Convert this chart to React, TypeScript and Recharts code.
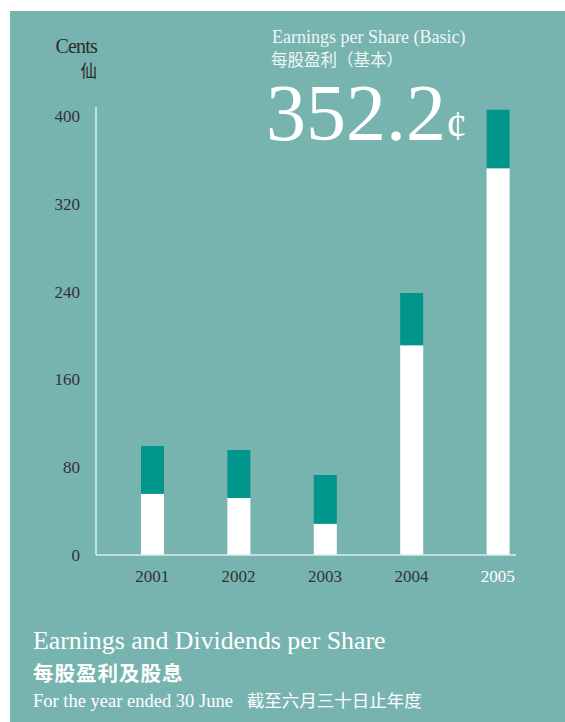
import { BarChart, Bar, XAxis, YAxis } from "recharts";

const years = ["2001", "2002", "2003", "2004", "2005"];
const earnings = [55.7, 52.0, 28.4, 191.0, 352.2];
const dividends = [43.6, 43.7, 44.5, 47.6, 53.3];
const yTicks = [0, 80, 160, 240, 320, 400];

const data = years.map((year, i) => ({
    year,
    earnings: earnings[i],
    dividends: dividends[i],
}));

const BG = "#77b4b0";
const TEAL = "#00968b";
const SERIF = "'Liberation Serif', 'DejaVu Serif', serif";
const CJK = "'Noto Sans CJK TC', sans-serif";

function XTick(props: any) {
    const { x, y, payload } = props;
    const last = payload.value === years[years.length - 1];
    return (
        <text
            x={x}
            y={y}
            dy={19}
            textAnchor="middle"
            fontFamily={SERIF}
            fontSize={17}
            fill={last ? "#ffffff" : "#333333"}
        >
            {payload.value}
        </text>
    );
}

export default function App() {
    return (
        <div style={{ position: "relative", width: 565, height: 722, background: "#fff", fontFamily: SERIF }}>
            <style>{`body{margin:0}`}</style>
            <div style={{ position: "absolute", left: 10, top: 11, width: 555, height: 711, background: BG }} />

            <BarChart
                width={565}
                height={722}
                data={data}
                margin={{ top: 107, right: 49, bottom: 127, left: 36 }}
                style={{ position: "absolute", left: 0, top: 0 }}
            >
                <XAxis
                    dataKey="year"
                    axisLine={{ stroke: "#d8ecea", strokeWidth: 1.5 }}
                    tickLine={false}
                    tick={<XTick />}
                    padding={{ left: 13, right: -25 }}
                    height={40}
                />
                <YAxis
                    domain={[0, 408]}
                    ticks={yTicks}
                    axisLine={{ stroke: "#d8ecea", strokeWidth: 1.5 }}
                    tickLine={false}
                    tickSize={0}
                    tickMargin={16}
                    width={60}
                    tick={{ fill: "#333333", fontSize: 17, fontFamily: SERIF }}
                />
                <Bar dataKey="earnings" stackId="a" fill="#ffffff" barSize={23} isAnimationActive={false} />
                <Bar dataKey="dividends" stackId="a" fill={TEAL} barSize={23} isAnimationActive={false} />
            </BarChart>

            <div style={{ position: "absolute", left: 40, top: 37, width: 57, textAlign: "right", color: "#2b2b2b", fontSize: 20, lineHeight: "18px", letterSpacing: -0.8, whiteSpace: "nowrap" }}>
                Cents
            </div>
            <div style={{ position: "absolute", left: 40, top: 61, width: 57, textAlign: "right", color: "#2b2b2b", fontSize: 16.5, lineHeight: "18px", fontFamily: CJK }}>
                仙
            </div>

            <div style={{ position: "absolute", left: 272, top: 28, color: "#eef6f5", fontSize: 18, lineHeight: "19px", whiteSpace: "nowrap" }}>
                Earnings per Share (Basic)
            </div>
            <div style={{ position: "absolute", left: 271, top: 50, color: "#eef6f5", fontSize: 16.5, lineHeight: "18px", fontFamily: CJK, whiteSpace: "nowrap" }}>
                每股盈利（基本）
            </div>
            <div style={{ position: "absolute", left: 266, top: 82, color: "#ffffff", fontSize: 80, lineHeight: "62px", whiteSpace: "nowrap" }}>
                352.2<span style={{ fontSize: 42, lineHeight: 0 }}>¢</span>
            </div>

            <div style={{ position: "absolute", left: 33, top: 626, color: "#ffffff", fontSize: 25.8, lineHeight: "30px", whiteSpace: "nowrap" }}>
                Earnings and Dividends per Share
            </div>
            <div style={{ position: "absolute", left: 33, top: 660, color: "#ffffff", fontSize: 20.5, lineHeight: "24px", fontWeight: 700, fontFamily: CJK, letterSpacing: 1 }}>
                每股盈利及股息
            </div>
            <div style={{ position: "absolute", left: 33, top: 688, color: "#ffffff", fontSize: 18.5, lineHeight: "24px", whiteSpace: "nowrap" }}>
                For the year ended 30 June
                <span style={{ fontFamily: CJK, fontSize: 17.5, marginLeft: 14 }}>截至六月三十日止年度</span>
            </div>
        </div>
    );
}
